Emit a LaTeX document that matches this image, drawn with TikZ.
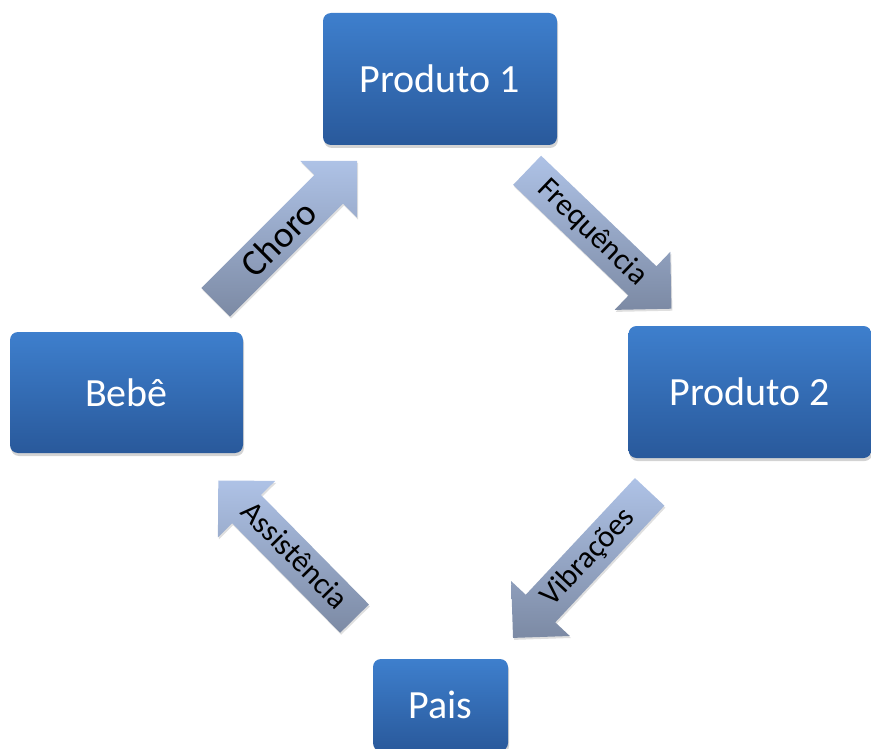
\documentclass[tikz,border=0pt]{standalone}
\usepackage{fontspec}
\setmainfont{Carlito}
\usetikzlibrary{shapes.arrows,shadows,calc}
\definecolor{boxtop}{RGB}{62,127,205}
\definecolor{boxbot}{RGB}{41,89,155}
\definecolor{arrtop}{RGB}{174,194,230}
\definecolor{arrbot}{RGB}{124,138,164}
\tikzset{
  box/.style={rectangle,rounded corners=8pt,top color=boxtop,bottom color=boxbot,
    text=white,font=\fontsize{40}{44}\selectfont,
    drop shadow={opacity=0.35,shadow xshift=1pt,shadow yshift=-3pt}},
  flow/.style={single arrow,single arrow tip angle=90,single arrow head extend=20pt,
    minimum height=200pt,inner xsep=0pt,inner ysep=6pt,text height=22pt,text depth=6pt,
    top color=arrtop,bottom color=arrbot,font=\fontsize{31}{34}\selectfont,
    drop shadow={opacity=0.25,shadow xshift=1pt,shadow yshift=-2pt}}
}
\begin{document}
\begin{tikzpicture}[x=1pt,y=-1pt]
    \useasboundingbox (0,0) rectangle (871,749);
    \clip (0,0) rectangle (871,749);
    % boxes
    \node[box,minimum width=234pt,minimum height=132pt] (p1)   at (440,79)    {Produto 1};
    \node[box,minimum width=243pt,minimum height=132pt] (p2)   at (750,392)   {Produto 2};
    \node[box,minimum width=233pt,minimum height=121pt] (bebe) at (126.5,392.5) {Beb\^e};
    \node[box,minimum width=135pt,minimum height=92pt]  (pais) at (440.5,705) {Pais};
    % block arrows between the boxes
    \node[flow,rotate=45,font=\fontsize{37}{40}\selectfont,text height=26pt,text depth=2pt]
      (choro) at ($(bebe)!0.5!(p1)+(-4,3)$) {Choro};
    \node[flow,rotate=-43.8] (freq) at ($(p1)!0.5!(p2)+(-3,-3)$) {Frequ\^encia};
    \node[flow,rotate=46.9,shape border rotate=180]
      (vibr) at ($(p2)!0.5!(pais)+(-7,9)$) {Vibra\c{c}\~oes};
    \node[flow,rotate=-45.4,shape border rotate=180,minimum height=194pt]
      (assist) at ($(pais)!0.5!(bebe)+(10,8)$) {Assist\^encia};
\end{tikzpicture}
\end{document}
